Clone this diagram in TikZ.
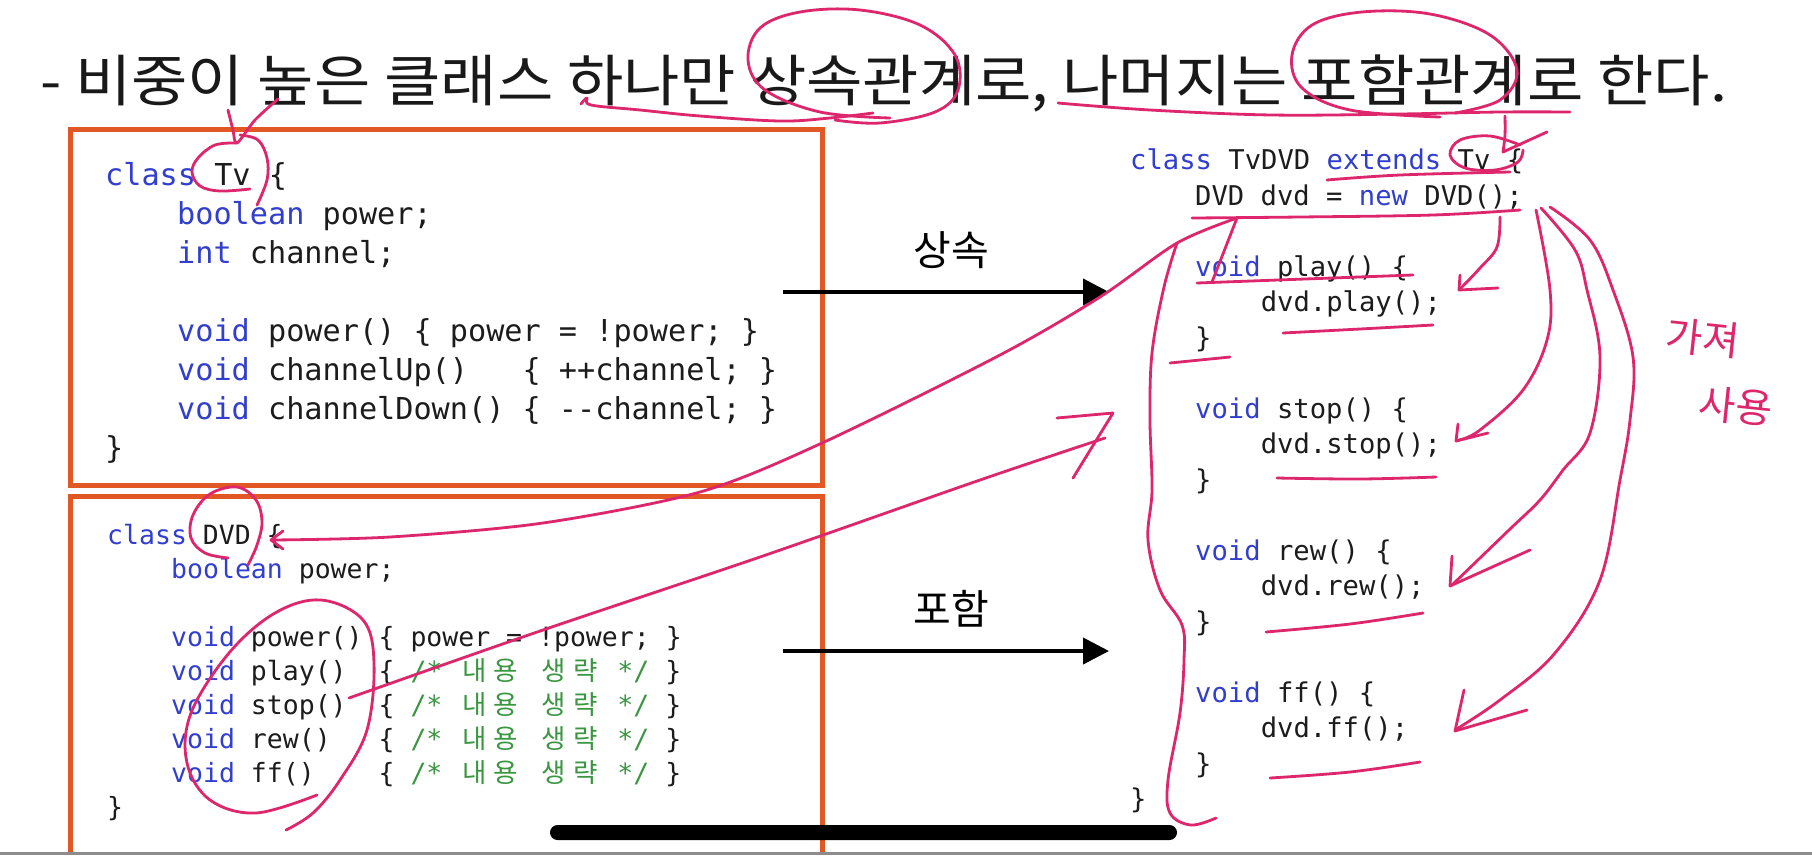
\documentclass[tikz,border=0pt]{standalone}
\usepackage{fontspec}
\setmainfont{Noto Sans CJK KR}
\newfontfamily\codefont{DejaVu Sans Mono}
\newfontfamily\kofont{Noto Sans CJK KR}
\usetikzlibrary{arrows.meta}

\definecolor{boxorange}{RGB}{226,88,36}
\definecolor{inkpink}{RGB}{222,38,108}
\definecolor{kwblue}{RGB}{50,62,205}
\definecolor{cmgreen}{RGB}{58,150,64}
\definecolor{codetext}{RGB}{28,28,28}

% keyword, comment, hangul cell, double minus
\newcommand\kw[1]{\textcolor{kwblue}{#1}}
\newcommand\cmt[1]{\textcolor{cmgreen}{#1}}
\newcommand\hg[1]{\makebox[1.2em]{\kofont #1}}
\newcommand\dm{-\kern0pt-}
\newcommand\tvfont{\fontsize{30.2}{36}\codefont}
\newcommand\dvdfont{\fontsize{26.5}{32}\codefont}
\newcommand\rfont{\fontsize{27.2}{33}\codefont}

\tikzset{
  code/.style={anchor=base west, inner sep=0pt, text=codetext},
  orangebox/.style={draw=boxorange, line width=5pt},
  conn/.style={line width=4pt, -{Triangle[length=26pt,width=26pt]}},
  pen/.style={draw=inkpink, line width=2.8pt, line cap=round, line join=round},
  relname/.style={anchor=base, inner sep=0pt, font=\fontsize{41}{44}\selectfont},
}

\begin{document}
\begin{tikzpicture}[x=1pt, y=-1pt]
  \fill[white] (0,0) rectangle (1812,855);
  \useasboundingbox (0,0) rectangle (1812,855);

  % heading
  \node[anchor=base west, inner sep=0pt, font=\fontsize{56}{60}\selectfont, text=black!90] (title)
    at (40,101) {\scalebox{1.094}[1]{- 비중이 높은 클래스 하나만 상속관계로, 나머지는 포함관계로 한다.}};

  % class Tv
  \draw[orangebox] (70,129) rectangle (822,485);
  \node[code, font=\tvfont] (tv1) at (105,185) {\kw{class} Tv \{};
  \node[code, font=\tvfont] (tv2) at (177,224) {\kw{boolean} power;};
  \node[code, font=\tvfont] (tv3) at (177,263) {\kw{int} channel;};
  \node[code, font=\tvfont] (tv4) at (177,341) {\kw{void} power() \{ power = !power; \}};
  \node[code, font=\tvfont] (tv5) at (177,380) {\kw{void} channelUp()\ \ \ \{ ++channel; \}};
  \node[code, font=\tvfont] (tv6) at (177,419) {\kw{void} channelDown() \{ \dm channel; \}};
  \node[code, font=\tvfont] (tv7) at (105,458) {\}};

  % class DVD
  \draw[orangebox] (70,852) |- (822,496) -- (822,852);
  \node[code, font=\dvdfont] (dvd1) at (107,544) {\kw{class} DVD \{};
  \node[code, font=\dvdfont] (dvd2) at (171,578) {\kw{boolean} power;};
  \node[code, font=\dvdfont] (dvd3) at (171,646) {\kw{void} power() \{ power = !power; \}};
  \foreach \m/\pad/\y in {play/{\ \ }/680, stop/{\ \ }/714, rew/{\ \ \ }/748, ff/{\ \ \ \ }/782}
    \node[code, font=\dvdfont] (dvd\m) at (171,\y)
      {\kw{void} \m()\pad\{ \cmt{/* \hg{내}\hg{용} \hg{생}\hg{략} */} \}};
  \node[code, font=\dvdfont] (dvd8) at (107,816) {\}};

  % class TvDVD
  \node[code, font=\rfont] (tvdvd1) at (1130,169.5) {\kw{class} TvDVD \kw{extends} Tv \{};
  \node[code, font=\rfont] (tvdvd2) at (1195,205) {DVD dvd = \kw{new} DVD();};
  \foreach \m [count=\k from 0] in {play,stop,rew,ff} {
    \node[code, font=\rfont] (void\m) at (1195,276+142*\k) {\kw{void} \m() \{};
    \node[code, font=\rfont] (call\m) at (1260.6,311.5+142*\k) {dvd.\m();};
    \node[code, font=\rfont] (end\m) at (1195,347+142*\k) {\}};
  }
  \node[code, font=\rfont] (tvdvd9) at (1130,808.5) {\}};

  % inheritance / composition
  \coordinate (inhfrom) at (783,292);
  \coordinate (inhto) at (1109,292);
  \draw[conn] (inhfrom) -- (inhto);
  \node[relname] (inh) at (951,265) {상속};
  \coordinate (hasfrom) at (783,651);
  \coordinate (hasto) at (1109,651);
  \draw[conn] (hasfrom) -- (hasto);
  \node[relname] (has) at (951,624) {포함};

  % pen marks: heading
  \draw[pen] plot[smooth, tension=0.6] coordinates {(581,104) (587,98) (591,105) (640,110) (700,116) (780,121) (830,118) (873,113)};
  \draw[pen] plot[smooth, tension=0.6] coordinates {(890,118) (820,112) (765,90) (748,60) (760,28) (800,12) (860,10) (920,25) (955,55) (958,90) (935,112) (880,123) (835,120)};
  \draw[pen] plot[smooth, tension=0.6] coordinates {(1058,103) (1150,110) (1272,115) (1400,114) (1500,112) (1570,112)};
  \draw[pen] plot[smooth, tension=0.6] coordinates {(1440,117) (1350,110) (1302,88) (1292,55) (1312,25) (1362,12) (1430,14) (1490,35) (1517,70) (1500,100) (1455,113)};
  \draw[pen] plot[smooth, tension=0.6] coordinates {(1505,116) (1505,135) (1503,152)} -- (1547,132);
  \draw[pen] plot[smooth, tension=0.6] coordinates {(1520,145) (1490,136) (1460,140) (1450,155) (1465,168) (1495,170) (1518,162) (1523,150)};

  % pen marks: class Tv, class DVD
  \draw[pen] plot[smooth, tension=0.5] coordinates {(228,110) (233,130) (237,143) (255,120) (278,99)};
  \draw[pen] plot[smooth, tension=0.6] coordinates {(237,143) (215,145) (198,158) (192,172) (200,186) (220,191) (250,189)};
  \draw[pen] plot[smooth, tension=0.6] coordinates {(240,135) (258,140) (267,158) (267,180) (257,205)};
  \draw[pen] plot[smooth, tension=0.6] coordinates {(228,558) (205,553) (191,538) (193,515) (210,494) (237,487) (256,500) (262,522) (257,545) (248,565)};
  \draw[pen] plot[smooth, tension=0.6] coordinates {(317,795) (256,813) (210,800) (187,763) (191,713) (229,653) (275,613) (321,600) (363,620) (374,663) (367,730) (340,780) (313,813) (286,830)};

  % pen marks: long strokes across
  \draw[pen] plot[smooth, tension=0.5] coordinates {(271,540) (390,537) (543,523) (700,492) (822,443) (1000,355) (1100,297) (1177,243) (1237,218)};
  \draw[pen] (1237,218) -- (1212,282);
  \draw[pen] (271,540) -- (283,531) (271,540) -- (283,549);
  \draw[pen] plot[smooth, tension=0.5] coordinates {(349,698) (543,630) (760,557) (980,480) (1105,438)};
  \draw[pen] (1057,418) -- (1113,413) -- (1073,478);

  % pen marks: class TvDVD
  \draw[pen] plot[smooth, tension=0.6] coordinates {(1327,180) (1400,175) (1510,172)};
  \draw[pen] plot[smooth, tension=0.6] coordinates {(1192,218) (1300,217) (1433,215) (1520,210)};
  \draw[pen] plot[smooth, tension=0.6] coordinates {(1177,243) (1164,287) (1152,353) (1150,420) (1152,490) (1148,540) (1160,590) (1182,625) (1184,660) (1180,713) (1168,780) (1170,813) (1191,825) (1216,818)};
  \draw[pen] (1197,283) -- (1413,275);
  \draw[pen] plot[smooth, tension=0.6] coordinates {(1283,333) (1360,329) (1433,325)};
  \draw[pen] (1170,363) -- (1230,357);
  \draw[pen] plot[smooth, tension=0.6] coordinates {(1277,478) (1360,479) (1436,477)};
  \draw[pen] plot[smooth, tension=0.6] coordinates {(1266,632) (1350,624) (1423,613)};
  \draw[pen] plot[smooth, tension=0.6] coordinates {(1270,778) (1350,772) (1420,762)};

  % pen marks: calls from dvd
  \draw[pen] plot[smooth, tension=0.6] coordinates {(1500,217) (1497,247) (1480,268) (1461,288)};
  \draw[pen] (1460,275) -- (1459,290) -- (1498,288);
  \draw[pen] plot[smooth, tension=0.6] coordinates {(1536,210) (1550,290) (1547,340) (1523,390) (1480,430) (1459,440)};
  \draw[pen] (1458,424) -- (1456,441) -- (1488,433);
  \draw[pen] plot[smooth, tension=0.6] coordinates {(1541,208) (1575,250) (1587,290) (1600,357) (1590,433) (1563,470) (1540,500) (1509,530) (1452,585)};
  \draw[pen] (1452,556) -- (1450,586) -- (1530,550);
  \draw[pen] plot[smooth, tension=0.6] coordinates {(1550,207) (1590,240) (1613,290) (1633,357) (1630,420) (1620,480) (1600,580) (1555,653) (1500,700) (1455,730)};
  \draw[pen] (1464,690) -- (1455,731) -- (1527,710);

  \node[text=inkpink, font=\kofont\fontsize{40}{40}\selectfont, rotate=-6] (note1) at (1703,338) {가져};
  \node[text=inkpink, font=\kofont\fontsize{40}{40}\selectfont, rotate=-6] (note2) at (1736,406) {사용};

  % screen bar
  \fill[black, rounded corners=7.5pt] (550,825) rectangle (1177,840);
  \fill[black!45] (0,852) rectangle (1812,855);
\end{tikzpicture}
\end{document}
